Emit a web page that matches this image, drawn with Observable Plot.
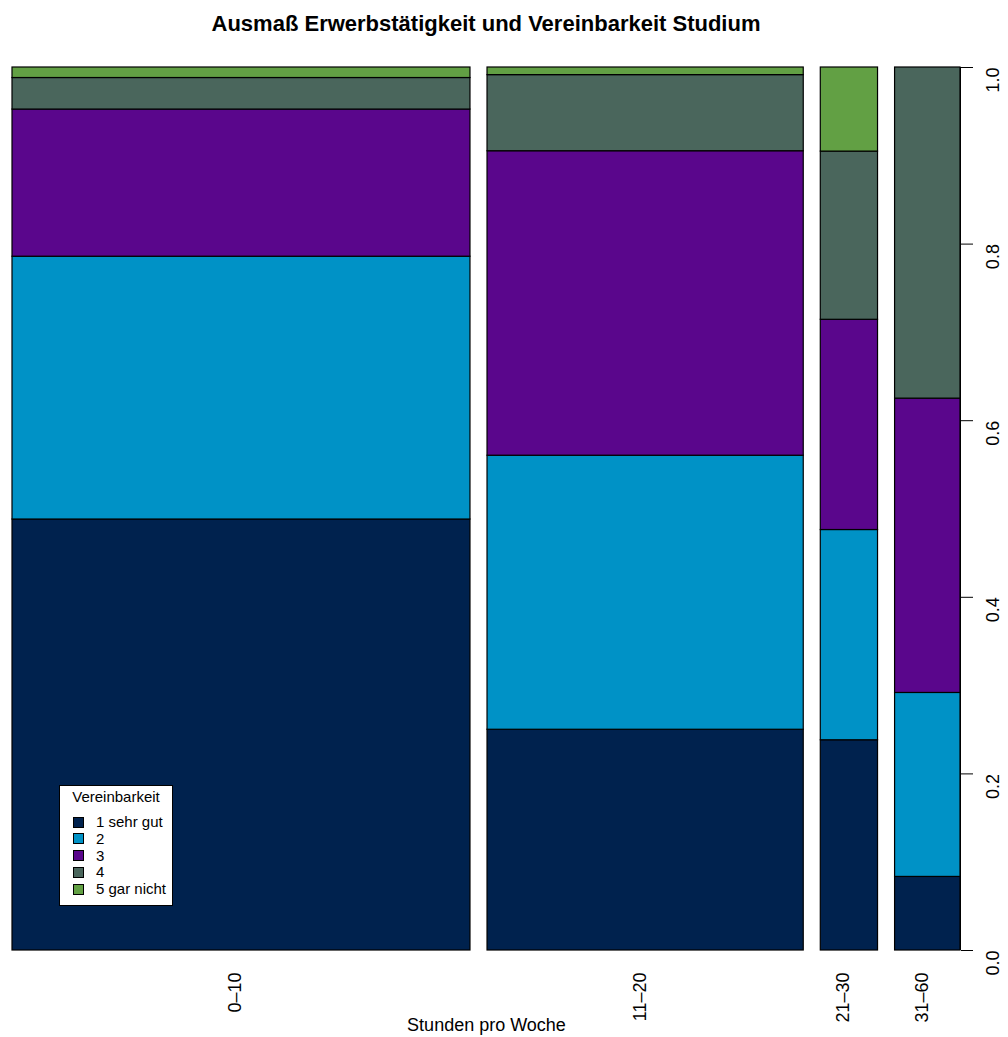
<!DOCTYPE html>
<html>
<head>
<meta charset="utf-8">
<script src="https://cdn.jsdelivr.net/npm/d3@7"></script>
<script src="https://cdn.jsdelivr.net/npm/@observablehq/plot@0.6"></script>
<style>
  html, body { margin: 0; padding: 0; background: #fff; }
  body { font-family: "Liberation Sans", Arial, Helvetica, sans-serif; }
  #wrap { position: relative; width: 1008px; height: 1037px; }
  #title { height: 40px; width: 972px; text-align: center; font-weight: bold; font-size: 22px; line-height: 47px; color: #000; overflow: visible; }
  #legend { position: absolute; left: 59px; top: 785px; width: 112px; height: 119px; border: 1px solid #000; background: #fff; font-size: 15px; color: #000; }
  #legend .lt { position: absolute; left: 0; width: 112px; top: 2px; text-align: center; }
  #legend .row { position: absolute; left: 13px; height: 17px; line-height: 17px; white-space: nowrap; }
  #legend .sw { display: inline-block; width: 9px; height: 9px; border: 1px solid #000; vertical-align: middle; margin-right: 12px; position: relative; top: -1px; }
  svg { overflow: visible; }
</style>
</head>
<body>
<div id="wrap">
  <div id="title">Ausmaß Erwerbstätigkeit und Vereinbarkeit Studium</div>
  <div id="chart"></div>
  <div id="legend"></div>
</div>
<script>
// Categories (x) and levels (stacked)
const categories = ["0–10", "11–20", "21–30", "31–60"];
const levels = ["1 sehr gut", "2", "3", "4", "5 gar nicht"];
const colors = ["#00224E", "#0092C6", "#5A068C", "#4A665C", "#62A044"];
// counts per level, one value per category
const level1 = [82, 29, 5, 2];
const level2 = [50, 36, 5, 5];
const level3 = [28, 40, 5, 8];
const level4 = [6, 10, 4, 9];
const level5 = [2, 1, 2, 0];
const yTicks = [0, 0.2, 0.4, 0.6, 0.8, 1.0];
const legendTitle = "Vereinbarkeit";
const xTitle = "Stunden pro Woche";

const series = [level1, level2, level3, level4, level5];
const totals = categories.map((c, i) => d3.sum(series, s => s[i]));
const N = d3.sum(totals);
const gap = 0.019;

const cells = [];
const centers = [];
let cx = 0;
categories.forEach((cat, i) => {
  const w = totals[i] / N;
  const x1 = cx, x2 = cx + w;
  let cum = 0;
  levels.forEach((lev, j) => {
    const v = series[j][i];
    if (v > 0) {
      cells.push({cat, level: lev, x1, x2, y1: cum / totals[i], y2: (cum + v) / totals[i]});
    }
    cum += v;
  });
  centers.push({label: cat, xc: (x1 + x2) / 2});
  cx = x2 + gap;
});
const xMax = cx - gap;

const chart = Plot.plot({
  width: 1008,
  height: 997,
  marginLeft: 12,
  marginRight: 48,
  marginTop: 27,
  marginBottom: 87,
  style: {fontFamily: '"Liberation Sans", Arial, Helvetica, sans-serif', fontSize: "18px", color: "#000", background: "#fff"},
  x: {domain: [0, xMax], axis: null},
  y: {domain: [0, 1], axis: null},
  color: {domain: levels, range: colors},
  marks: [
    Plot.rect(cells, {x1: "x1", x2: "x2", y1: "y1", y2: "y2", fill: "level", stroke: "#000", strokeWidth: 1.2}),
    Plot.axisY({anchor: "right", ticks: yTicks, tickSize: 12, tickFormat: () => "", stroke: "#000"}),
    Plot.ruleX([xMax], {y1: 0, y2: 1, stroke: "#000"}),
    Plot.text(yTicks, {y: d => d, text: d => d.toFixed(1), frameAnchor: "right", dx: 33, rotate: -90, fontSize: 18, fill: "#000"}),
    Plot.text(centers, {x: "xc", text: "label", frameAnchor: "bottom", dy: 22, rotate: -90, textAnchor: "end", fontSize: 18, fill: "#000"}),
    Plot.text([xTitle], {text: d => d, frameAnchor: "bottom", dy: 80, fontSize: 18, fill: "#000"})
  ]
});
document.getElementById("chart").appendChild(chart);

// Legend
const lg = document.getElementById("legend");
const t = document.createElement("div");
t.className = "lt"; t.textContent = legendTitle; lg.appendChild(t);
levels.forEach((lev, j) => {
  const r = document.createElement("div");
  r.className = "row";
  r.style.top = (27 + j * 16.8) + "px";
  const sw = document.createElement("span");
  sw.className = "sw"; sw.style.background = colors[j];
  r.appendChild(sw);
  r.appendChild(document.createTextNode(lev));
  lg.appendChild(r);
});
</script>
</body>
</html>
